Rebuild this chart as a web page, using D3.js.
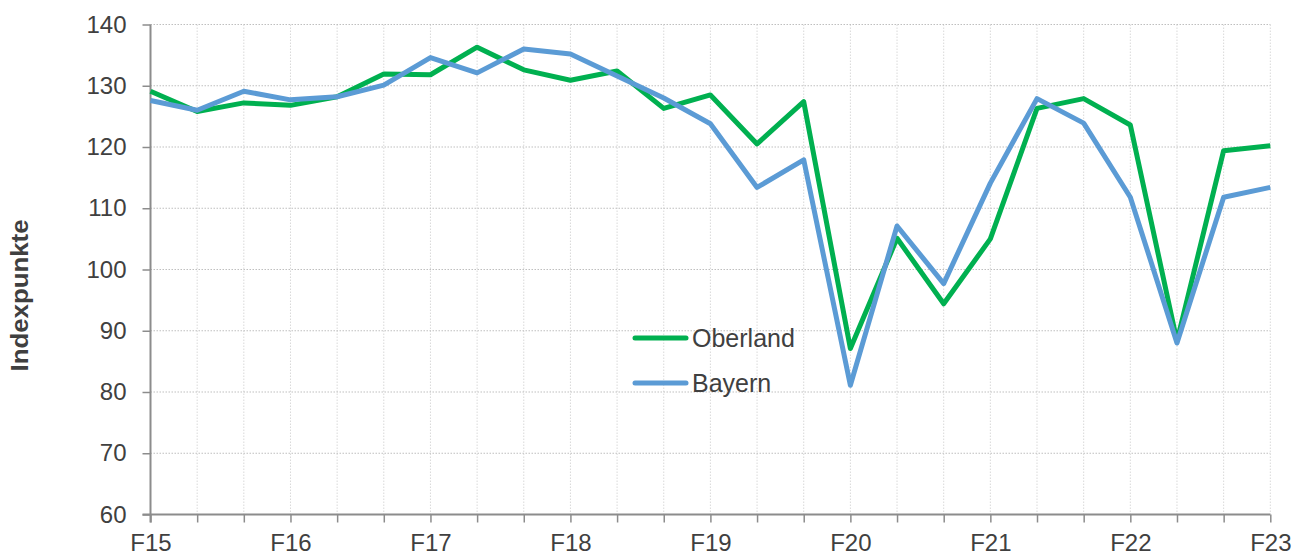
<!DOCTYPE html>
<html>
<head>
<meta charset="utf-8">
<script src="https://cdn.jsdelivr.net/npm/d3@7"></script>
<style>
  html, body { margin: 0; padding: 0; background: #fff; }
  svg { display: block; }
  text { font-family: "Liberation Sans", Arial, sans-serif; fill: #404040; }
</style>
</head>
<body>
<svg id="chart" width="1301" height="556"></svg>
<script>
// Survey periods: F = Frühjahr, S = Sommer, H = Herbst
const periods = [
  "F15","S15","H15","F16","S16","H16","F17","S17","H17",
  "F18","S18","H18","F19","S19","H19","F20","S20","H20",
  "F21","S21","H21","F22","S22","H22","F23"
];
const oberland = [129.1,125.8,127.2,126.8,128.2,131.9,131.8,136.3,132.6,
                  130.9,132.4,126.3,128.5,120.5,127.4,87.1,105.1,94.4,
                  105.0,126.3,127.9,123.6,88.3,119.4,120.2];
const bayern   = [127.6,126.0,129.1,127.7,128.2,130.1,134.6,132.1,136.0,
                  135.2,131.6,128.0,123.8,113.4,117.9,81.1,107.1,97.7,
                  114.1,127.9,123.9,111.8,88.0,111.8,113.4];
const xTickLabels = ["F15","F16","F17","F18","F19","F20","F21","F22","F23"];
const yTicks = [60,70,80,90,100,110,120,130,140];
const seriesNames = ["Oberland","Bayern"];
const seriesColors = ["#00b050","#5b9bd5"];

const svg = d3.select("#chart");
const plot = { left: 150.5, right: 1270.3, top: 24.5, bottom: 514.5 };

const x = d3.scalePoint().domain(periods).range([plot.left, plot.right]);
const y = d3.scaleLinear().domain([60, 140]).range([plot.bottom, plot.top]);

// vertical gridlines at each period
svg.append("g").selectAll("line").data(periods.slice(1)).join("line")
  .attr("x1", d => x(d)).attr("x2", d => x(d))
  .attr("y1", plot.top).attr("y2", plot.bottom)
  .attr("stroke", "#d9d9d9").attr("stroke-width", 1)
  .attr("stroke-dasharray", "1.5,1.5");

// horizontal gridlines
svg.append("g").selectAll("line").data(yTicks.slice(1)).join("line")
  .attr("x1", plot.left).attr("x2", plot.right)
  .attr("y1", d => y(d)).attr("y2", d => y(d))
  .attr("stroke", "#bfbfbf").attr("stroke-width", 1)
  .attr("stroke-dasharray", "1.5,1.5");

// y axis
const yAxis = d3.axisLeft(y).tickValues(yTicks).tickSize(8).tickPadding(16);
const gy = svg.append("g").attr("transform", `translate(${plot.left},0)`).call(yAxis);
gy.select(".domain").attr("stroke", "#8c8c8c").attr("stroke-width", 2)
  .attr("d", `M0,${plot.top}V${plot.bottom + 8}`);
gy.selectAll(".tick line").attr("stroke", "#8c8c8c").attr("stroke-width", 1.5);
gy.selectAll(".tick text").attr("font-size", 24)
  .attr("font-family", "Liberation Sans, Arial, sans-serif").attr("fill", "#404040");

// x axis
const xAxis = d3.axisBottom(x).tickSize(8).tickPadding(11)
  .tickFormat(d => xTickLabels.includes(d) ? d : "");
const gx = svg.append("g").attr("transform", `translate(0,${plot.bottom})`).call(xAxis);
gx.select(".domain").attr("stroke", "#8c8c8c").attr("stroke-width", 2)
  .attr("d", `M${plot.left - 8},0H${plot.right}`);
gx.selectAll(".tick line").attr("stroke", "#8c8c8c").attr("stroke-width", 1.5);
gx.selectAll(".tick text").attr("font-size", 24)
  .attr("font-family", "Liberation Sans, Arial, sans-serif").attr("fill", "#404040");

// axis title
svg.append("text")
  .attr("transform", "translate(28,295.5) rotate(-90)")
  .attr("text-anchor", "middle")
  .attr("font-size", 24).attr("font-weight", "bold")
  .attr("textLength", 152).attr("lengthAdjust", "spacingAndGlyphs")
  .text("Indexpunkte");

// series lines
const line = d3.line().x((d, i) => x(periods[i])).y(d => y(d));
[oberland, bayern].forEach((vals, k) => {
  svg.append("path").datum(vals)
    .attr("d", line)
    .attr("fill", "none")
    .attr("stroke", seriesColors[k])
    .attr("stroke-width", 5)
    .attr("stroke-linejoin", "round");
});

// legend
const legend = svg.append("g").attr("transform", "translate(633,338)");
seriesNames.forEach((name, k) => {
  const g = legend.append("g").attr("transform", `translate(0,${k * 45})`);
  g.append("line").attr("x1", 2).attr("x2", 53).attr("y1", 0).attr("y2", 0)
    .attr("stroke", seriesColors[k]).attr("stroke-width", 5)
    .attr("stroke-linecap", "round");
  g.append("text").attr("x", 59).attr("y", 9)
    .attr("font-size", 25).text(name);
});
</script>
</body>
</html>
